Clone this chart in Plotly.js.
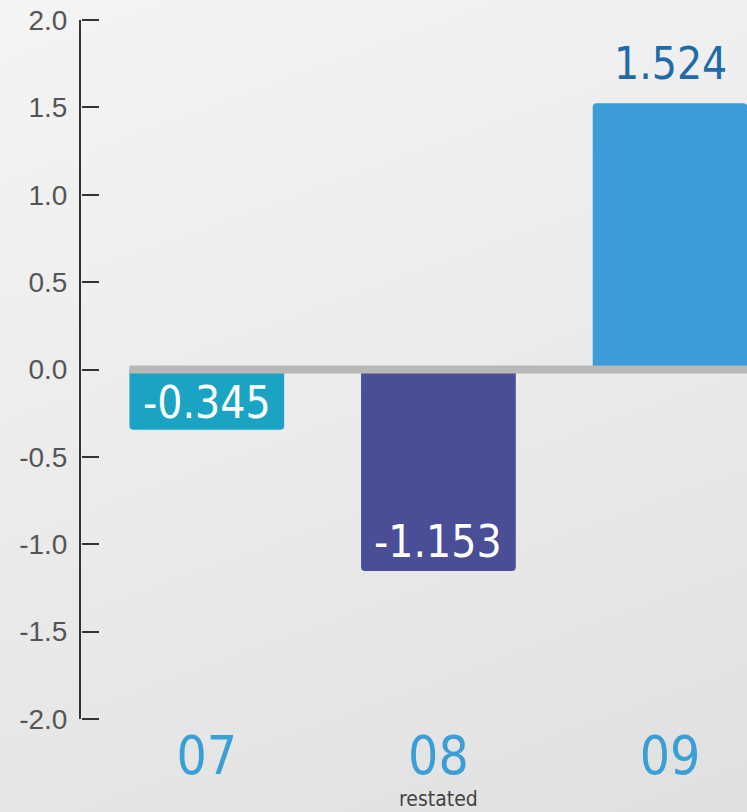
<!DOCTYPE html>
<html>
<head>
<meta charset="utf-8">
<script src="https://cdn.plot.ly/plotly-3.0.1.min.js"></script>
<style>
  html, body { margin: 0; padding: 0; }
  body { width: 747px; height: 812px; background: linear-gradient(160deg, #f4f4f4 0%, #ebebeb 50%, #e0e0e0 100%); }
  #chart { width: 747px; height: 812px; }
</style>
</head>
<body>
<div id="chart"></div>
<script>
const categories = ['07', '08', '09'];
const values = [-0.345, -1.153, 1.524];
const valueLabels = ['-0.345', '-1.153', '1.524'];
const barColors = ['#1ba3c3', '#4a4e96', '#3b9cd7'];
const yTickVals = [-2, -1.5, -1, -0.5, 0, 0.5, 1, 1.5, 2];
const yTickText = ['-2.0', '-1.5', '-1.0', '-0.5', '0.0', '0.5', '1.0', '1.5', '2.0'];
const subNote = { category: '08', text: 'restated' };

const narrow = "'DejaVu Sans Condensed', 'Liberation Sans Narrow', Roboto, sans-serif";
const regular = "'Liberation Sans', Arial, sans-serif";
const barWidth = 0.668;
const yRange = [-2, 2];
const idx = c => categories.indexOf(c);
const xPos = categories.map((c, i) => i);

const trace = {
  type: 'bar',
  x: xPos,
  y: values,
  width: barWidth,
  marker: { color: barColors, line: { width: 0 } },
  hoverinfo: 'skip'
};

// invisible companion trace so the tick-mark axis (y2) is drawn
const tickTrace = {
  type: 'scatter',
  mode: 'markers',
  x: xPos,
  y: values,
  yaxis: 'y2',
  marker: { opacity: 0, size: 1 },
  hoverinfo: 'skip',
  showlegend: false
};

const annotations = [
  { x: 0, y: values[0] / 2, xref: 'x', yref: 'y', text: valueLabels[0], showarrow: false,
    font: { family: narrow, size: 44, color: '#ffffff' }, yanchor: 'middle', yshift: -3 },
  { x: 1, y: values[1], xref: 'x', yref: 'y', text: valueLabels[1], showarrow: false,
    font: { family: narrow, size: 44, color: '#ffffff' }, yanchor: 'middle', yshift: 29 },
  { x: 2, y: values[2], xref: 'x', yref: 'y', text: valueLabels[2], showarrow: false,
    font: { family: narrow, size: 44, color: '#1f6aa8' }, yanchor: 'middle', yshift: 40 },
  { x: idx(subNote.category), y: 0, xref: 'x', yref: 'paper', text: subNote.text, showarrow: false,
    font: { family: narrow, size: 21, color: '#444444' }, yanchor: 'middle', yshift: -80 }
];

const layout = {
  width: 747,
  height: 812,
  margin: { l: 81, r: 0, t: 20, b: 93, pad: 0 },
  paper_bgcolor: 'rgba(0,0,0,0)',
  plot_bgcolor: 'rgba(0,0,0,0)',
  showlegend: false,
  barcornerradius: 4,
  xaxis: {
    type: 'linear',
    range: [-0.543, 2.332],
    tickvals: xPos,
    ticktext: categories,
    showgrid: false,
    zeroline: false,
    showline: false,
    ticks: '',
    tickfont: { family: narrow, size: 53, color: '#3a9fd6' },
    ticklabelstandoff: 1,
    fixedrange: true
  },
  yaxis: {
    range: yRange,
    tickvals: yTickVals,
    ticktext: yTickText,
    showgrid: false,
    zeroline: false,
    showline: true,
    linecolor: '#333333',
    linewidth: 2,
    ticks: '',
    tickfont: { family: regular, size: 28, color: '#555555' },
    ticklabelstandoff: 6,
    fixedrange: true
  },
  yaxis2: {
    overlaying: 'y',
    side: 'right',
    anchor: 'free',
    position: 0,
    range: yRange,
    tickvals: yTickVals,
    showgrid: false,
    zeroline: false,
    showline: false,
    showticklabels: false,
    ticks: 'outside',
    ticklen: 17,
    tickwidth: 2,
    tickcolor: '#333333',
    fixedrange: true
  },
  shapes: [
    { type: 'line', xref: 'x', yref: 'y', x0: -barWidth / 2, x1: 2.6, y0: 0, y1: 0,
      line: { color: '#b8b8b8', width: 8 }, layer: 'above' }
  ],
  annotations: annotations
};

Plotly.newPlot('chart', [trace, tickTrace], layout, { displayModeBar: false, staticPlot: true });
</script>
</body>
</html>
